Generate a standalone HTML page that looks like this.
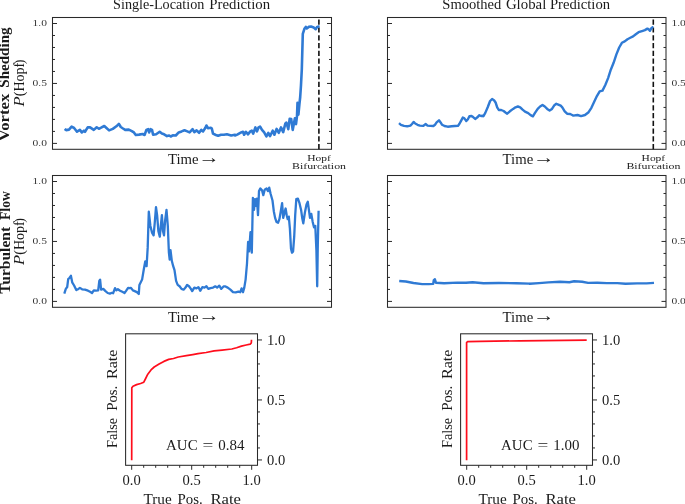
<!DOCTYPE html>
<html><head><meta charset="utf-8"><title>Figure</title>
<style>
html,body{margin:0;padding:0;background:#fff;}
body{width:685px;height:504px;overflow:hidden;}
svg{display:block;}
text{font-family:"Liberation Serif","DejaVu Serif",serif;fill:#1a1a1a;}
.lb{font-size:14.2px;}
.bd{font-size:14.4px;font-weight:bold;}
.tk{font-size:8.1px;fill:#333;}
.sm{font-size:8.2px;}
</style></head><body>
<svg width="685" height="504" viewBox="0 0 685 504">
<rect width="685" height="504" fill="#fff"/>
<rect x="52.5" y="17.5" width="279.0" height="131.8" fill="none" stroke="#2a2a2a" stroke-width="1.05"/>
<line x1="52.5" y1="143.40" x2="57.0" y2="143.40" stroke="#2a2a2a" stroke-width="1"/>
<line x1="331.5" y1="143.40" x2="327.0" y2="143.40" stroke="#2a2a2a" stroke-width="1"/>
<line x1="52.5" y1="131.41" x2="55.0" y2="131.41" stroke="#2a2a2a" stroke-width="1"/>
<line x1="331.5" y1="131.41" x2="329.0" y2="131.41" stroke="#2a2a2a" stroke-width="1"/>
<line x1="52.5" y1="119.42" x2="55.0" y2="119.42" stroke="#2a2a2a" stroke-width="1"/>
<line x1="331.5" y1="119.42" x2="329.0" y2="119.42" stroke="#2a2a2a" stroke-width="1"/>
<line x1="52.5" y1="107.43" x2="55.0" y2="107.43" stroke="#2a2a2a" stroke-width="1"/>
<line x1="331.5" y1="107.43" x2="329.0" y2="107.43" stroke="#2a2a2a" stroke-width="1"/>
<line x1="52.5" y1="95.44" x2="55.0" y2="95.44" stroke="#2a2a2a" stroke-width="1"/>
<line x1="331.5" y1="95.44" x2="329.0" y2="95.44" stroke="#2a2a2a" stroke-width="1"/>
<line x1="52.5" y1="83.45" x2="57.0" y2="83.45" stroke="#2a2a2a" stroke-width="1"/>
<line x1="331.5" y1="83.45" x2="327.0" y2="83.45" stroke="#2a2a2a" stroke-width="1"/>
<line x1="52.5" y1="71.46" x2="55.0" y2="71.46" stroke="#2a2a2a" stroke-width="1"/>
<line x1="331.5" y1="71.46" x2="329.0" y2="71.46" stroke="#2a2a2a" stroke-width="1"/>
<line x1="52.5" y1="59.47" x2="55.0" y2="59.47" stroke="#2a2a2a" stroke-width="1"/>
<line x1="331.5" y1="59.47" x2="329.0" y2="59.47" stroke="#2a2a2a" stroke-width="1"/>
<line x1="52.5" y1="47.48" x2="55.0" y2="47.48" stroke="#2a2a2a" stroke-width="1"/>
<line x1="331.5" y1="47.48" x2="329.0" y2="47.48" stroke="#2a2a2a" stroke-width="1"/>
<line x1="52.5" y1="35.49" x2="55.0" y2="35.49" stroke="#2a2a2a" stroke-width="1"/>
<line x1="331.5" y1="35.49" x2="329.0" y2="35.49" stroke="#2a2a2a" stroke-width="1"/>
<line x1="52.5" y1="23.50" x2="57.0" y2="23.50" stroke="#2a2a2a" stroke-width="1"/>
<line x1="331.5" y1="23.50" x2="327.0" y2="23.50" stroke="#2a2a2a" stroke-width="1"/>
<text x="46.9" y="146.35" class="tk" text-anchor="end" textLength="14.4" lengthAdjust="spacingAndGlyphs">0.0</text>
<text x="46.9" y="86.40" class="tk" text-anchor="end" textLength="14.4" lengthAdjust="spacingAndGlyphs">0.5</text>
<text x="46.9" y="26.45" class="tk" text-anchor="end" textLength="14.4" lengthAdjust="spacingAndGlyphs">1.0</text>
<line x1="318.9" y1="149.3" x2="318.9" y2="17.5" stroke="#111" stroke-width="1.6" stroke-dasharray="5.2,2.58"/>
<rect x="387.5" y="17.5" width="278.5" height="131.8" fill="none" stroke="#2a2a2a" stroke-width="1.05"/>
<line x1="387.5" y1="143.40" x2="392.0" y2="143.40" stroke="#2a2a2a" stroke-width="1"/>
<line x1="666.0" y1="143.40" x2="661.5" y2="143.40" stroke="#2a2a2a" stroke-width="1"/>
<line x1="387.5" y1="131.41" x2="390.0" y2="131.41" stroke="#2a2a2a" stroke-width="1"/>
<line x1="666.0" y1="131.41" x2="663.5" y2="131.41" stroke="#2a2a2a" stroke-width="1"/>
<line x1="387.5" y1="119.42" x2="390.0" y2="119.42" stroke="#2a2a2a" stroke-width="1"/>
<line x1="666.0" y1="119.42" x2="663.5" y2="119.42" stroke="#2a2a2a" stroke-width="1"/>
<line x1="387.5" y1="107.43" x2="390.0" y2="107.43" stroke="#2a2a2a" stroke-width="1"/>
<line x1="666.0" y1="107.43" x2="663.5" y2="107.43" stroke="#2a2a2a" stroke-width="1"/>
<line x1="387.5" y1="95.44" x2="390.0" y2="95.44" stroke="#2a2a2a" stroke-width="1"/>
<line x1="666.0" y1="95.44" x2="663.5" y2="95.44" stroke="#2a2a2a" stroke-width="1"/>
<line x1="387.5" y1="83.45" x2="392.0" y2="83.45" stroke="#2a2a2a" stroke-width="1"/>
<line x1="666.0" y1="83.45" x2="661.5" y2="83.45" stroke="#2a2a2a" stroke-width="1"/>
<line x1="387.5" y1="71.46" x2="390.0" y2="71.46" stroke="#2a2a2a" stroke-width="1"/>
<line x1="666.0" y1="71.46" x2="663.5" y2="71.46" stroke="#2a2a2a" stroke-width="1"/>
<line x1="387.5" y1="59.47" x2="390.0" y2="59.47" stroke="#2a2a2a" stroke-width="1"/>
<line x1="666.0" y1="59.47" x2="663.5" y2="59.47" stroke="#2a2a2a" stroke-width="1"/>
<line x1="387.5" y1="47.48" x2="390.0" y2="47.48" stroke="#2a2a2a" stroke-width="1"/>
<line x1="666.0" y1="47.48" x2="663.5" y2="47.48" stroke="#2a2a2a" stroke-width="1"/>
<line x1="387.5" y1="35.49" x2="390.0" y2="35.49" stroke="#2a2a2a" stroke-width="1"/>
<line x1="666.0" y1="35.49" x2="663.5" y2="35.49" stroke="#2a2a2a" stroke-width="1"/>
<line x1="387.5" y1="23.50" x2="392.0" y2="23.50" stroke="#2a2a2a" stroke-width="1"/>
<line x1="666.0" y1="23.50" x2="661.5" y2="23.50" stroke="#2a2a2a" stroke-width="1"/>
<text x="671.4" y="146.35" class="tk" text-anchor="start" textLength="14.4" lengthAdjust="spacingAndGlyphs">0.0</text>
<text x="671.4" y="86.40" class="tk" text-anchor="start" textLength="14.4" lengthAdjust="spacingAndGlyphs">0.5</text>
<text x="671.4" y="26.45" class="tk" text-anchor="start" textLength="14.4" lengthAdjust="spacingAndGlyphs">1.0</text>
<line x1="653.3" y1="149.3" x2="653.3" y2="17.5" stroke="#111" stroke-width="1.6" stroke-dasharray="5.2,2.58"/>
<rect x="52.5" y="175.5" width="279.0" height="131.8" fill="none" stroke="#2a2a2a" stroke-width="1.05"/>
<line x1="52.5" y1="301.40" x2="57.0" y2="301.40" stroke="#2a2a2a" stroke-width="1"/>
<line x1="331.5" y1="301.40" x2="327.0" y2="301.40" stroke="#2a2a2a" stroke-width="1"/>
<line x1="52.5" y1="289.41" x2="55.0" y2="289.41" stroke="#2a2a2a" stroke-width="1"/>
<line x1="331.5" y1="289.41" x2="329.0" y2="289.41" stroke="#2a2a2a" stroke-width="1"/>
<line x1="52.5" y1="277.42" x2="55.0" y2="277.42" stroke="#2a2a2a" stroke-width="1"/>
<line x1="331.5" y1="277.42" x2="329.0" y2="277.42" stroke="#2a2a2a" stroke-width="1"/>
<line x1="52.5" y1="265.43" x2="55.0" y2="265.43" stroke="#2a2a2a" stroke-width="1"/>
<line x1="331.5" y1="265.43" x2="329.0" y2="265.43" stroke="#2a2a2a" stroke-width="1"/>
<line x1="52.5" y1="253.44" x2="55.0" y2="253.44" stroke="#2a2a2a" stroke-width="1"/>
<line x1="331.5" y1="253.44" x2="329.0" y2="253.44" stroke="#2a2a2a" stroke-width="1"/>
<line x1="52.5" y1="241.45" x2="57.0" y2="241.45" stroke="#2a2a2a" stroke-width="1"/>
<line x1="331.5" y1="241.45" x2="327.0" y2="241.45" stroke="#2a2a2a" stroke-width="1"/>
<line x1="52.5" y1="229.46" x2="55.0" y2="229.46" stroke="#2a2a2a" stroke-width="1"/>
<line x1="331.5" y1="229.46" x2="329.0" y2="229.46" stroke="#2a2a2a" stroke-width="1"/>
<line x1="52.5" y1="217.47" x2="55.0" y2="217.47" stroke="#2a2a2a" stroke-width="1"/>
<line x1="331.5" y1="217.47" x2="329.0" y2="217.47" stroke="#2a2a2a" stroke-width="1"/>
<line x1="52.5" y1="205.48" x2="55.0" y2="205.48" stroke="#2a2a2a" stroke-width="1"/>
<line x1="331.5" y1="205.48" x2="329.0" y2="205.48" stroke="#2a2a2a" stroke-width="1"/>
<line x1="52.5" y1="193.49" x2="55.0" y2="193.49" stroke="#2a2a2a" stroke-width="1"/>
<line x1="331.5" y1="193.49" x2="329.0" y2="193.49" stroke="#2a2a2a" stroke-width="1"/>
<line x1="52.5" y1="181.50" x2="57.0" y2="181.50" stroke="#2a2a2a" stroke-width="1"/>
<line x1="331.5" y1="181.50" x2="327.0" y2="181.50" stroke="#2a2a2a" stroke-width="1"/>
<text x="46.9" y="304.35" class="tk" text-anchor="end" textLength="14.4" lengthAdjust="spacingAndGlyphs">0.0</text>
<text x="46.9" y="244.40" class="tk" text-anchor="end" textLength="14.4" lengthAdjust="spacingAndGlyphs">0.5</text>
<text x="46.9" y="184.45" class="tk" text-anchor="end" textLength="14.4" lengthAdjust="spacingAndGlyphs">1.0</text>
<rect x="387.5" y="175.5" width="278.5" height="131.8" fill="none" stroke="#2a2a2a" stroke-width="1.05"/>
<line x1="387.5" y1="301.40" x2="392.0" y2="301.40" stroke="#2a2a2a" stroke-width="1"/>
<line x1="666.0" y1="301.40" x2="661.5" y2="301.40" stroke="#2a2a2a" stroke-width="1"/>
<line x1="387.5" y1="289.41" x2="390.0" y2="289.41" stroke="#2a2a2a" stroke-width="1"/>
<line x1="666.0" y1="289.41" x2="663.5" y2="289.41" stroke="#2a2a2a" stroke-width="1"/>
<line x1="387.5" y1="277.42" x2="390.0" y2="277.42" stroke="#2a2a2a" stroke-width="1"/>
<line x1="666.0" y1="277.42" x2="663.5" y2="277.42" stroke="#2a2a2a" stroke-width="1"/>
<line x1="387.5" y1="265.43" x2="390.0" y2="265.43" stroke="#2a2a2a" stroke-width="1"/>
<line x1="666.0" y1="265.43" x2="663.5" y2="265.43" stroke="#2a2a2a" stroke-width="1"/>
<line x1="387.5" y1="253.44" x2="390.0" y2="253.44" stroke="#2a2a2a" stroke-width="1"/>
<line x1="666.0" y1="253.44" x2="663.5" y2="253.44" stroke="#2a2a2a" stroke-width="1"/>
<line x1="387.5" y1="241.45" x2="392.0" y2="241.45" stroke="#2a2a2a" stroke-width="1"/>
<line x1="666.0" y1="241.45" x2="661.5" y2="241.45" stroke="#2a2a2a" stroke-width="1"/>
<line x1="387.5" y1="229.46" x2="390.0" y2="229.46" stroke="#2a2a2a" stroke-width="1"/>
<line x1="666.0" y1="229.46" x2="663.5" y2="229.46" stroke="#2a2a2a" stroke-width="1"/>
<line x1="387.5" y1="217.47" x2="390.0" y2="217.47" stroke="#2a2a2a" stroke-width="1"/>
<line x1="666.0" y1="217.47" x2="663.5" y2="217.47" stroke="#2a2a2a" stroke-width="1"/>
<line x1="387.5" y1="205.48" x2="390.0" y2="205.48" stroke="#2a2a2a" stroke-width="1"/>
<line x1="666.0" y1="205.48" x2="663.5" y2="205.48" stroke="#2a2a2a" stroke-width="1"/>
<line x1="387.5" y1="193.49" x2="390.0" y2="193.49" stroke="#2a2a2a" stroke-width="1"/>
<line x1="666.0" y1="193.49" x2="663.5" y2="193.49" stroke="#2a2a2a" stroke-width="1"/>
<line x1="387.5" y1="181.50" x2="392.0" y2="181.50" stroke="#2a2a2a" stroke-width="1"/>
<line x1="666.0" y1="181.50" x2="661.5" y2="181.50" stroke="#2a2a2a" stroke-width="1"/>
<text x="671.4" y="304.35" class="tk" text-anchor="start" textLength="14.4" lengthAdjust="spacingAndGlyphs">0.0</text>
<text x="671.4" y="244.40" class="tk" text-anchor="start" textLength="14.4" lengthAdjust="spacingAndGlyphs">0.5</text>
<text x="671.4" y="184.45" class="tk" text-anchor="start" textLength="14.4" lengthAdjust="spacingAndGlyphs">1.0</text>
<polyline points="64.6,128.9 66.1,130.1 69.0,129.6 71.6,126.7 74.1,128.0 77.0,131.7 79.9,129.9 81.8,132.4 83.9,130.7 85.0,131.8 87.7,127.4 90.1,127.4 93.8,129.9 96.7,127.3 98.9,128.8 101.1,127.7 104.3,126.0 106.2,127.7 109.1,130.4 112.8,128.9 116.4,126.3 118.9,123.8 120.8,127.0 123.0,128.5 125.2,129.9 128.8,129.6 131.8,131.1 133.9,132.4 135.8,135.0 139.1,134.6 142.7,134.0 144.6,135.0 146.4,129.9 148.1,129.2 149.1,132.4 150.5,129.2 152.0,129.9 153.1,134.7 156.1,134.3 159.7,131.8 161.9,133.6 164.1,134.3 167.0,136.1 169.2,135.5 170.7,136.5 172.8,135.3 175.8,135.5 178.7,132.4 181.6,131.4 184.5,130.2 186.7,131.1 189.6,132.4 192.6,129.2 194.3,132.1 196.6,130.4 199.1,132.8 201.3,129.9 203.1,131.4 205.4,127.7 206.4,125.5 207.9,128.2 210.8,127.7 211.8,128.5 213.0,133.6 215.9,135.0 218.1,135.8 221.0,134.7 223.9,134.7 226.9,134.3 231.2,135.5 234.9,134.7 235.0,135.5 237.2,134.6 239.4,133.3 241.1,132.4 243.0,131.8 244.1,134.7 245.9,131.8 248.1,134.3 250.3,131.4 251.8,130.7 253.2,133.6 255.4,127.4 256.9,131.4 258.4,127.7 260.1,126.6 262.0,129.9 264.2,132.4 266.4,136.5 268.3,132.8 270.0,136.2 272.7,130.7 274.4,134.7 276.6,128.9 278.8,132.8 281.0,127.4 283.2,132.1 285.4,123.4 286.4,122.6 288.3,129.2 289.7,118.7 291.2,119.0 292.7,129.9 294.9,118.2 296.0,124.1 297.0,116.1 297.5,102.9 298.4,114.6 299.4,104.4 300.2,97.0 301.0,85.0 301.8,69.5 302.8,33.8 304.4,28.8 305.8,26.9 306.8,28.5 308.7,26.9 311.0,26.5 313.7,27.5 315.7,29.2 317.1,26.9 319.6,26.3" fill="none" stroke="#2f7ad4" stroke-width="2.6" stroke-linejoin="round" stroke-linecap="butt"/>
<polyline points="399.0,123.2 400.9,124.8 404.0,125.9 407.2,126.3 410.4,125.6 412.0,124.0 413.6,121.9 415.2,123.5 417.5,124.8 419.9,125.6 423.1,125.9 424.7,124.8 425.8,124.0 427.5,125.6 430.2,125.9 433.4,126.0 435.0,124.8 436.6,122.4 439.0,120.3 440.6,122.4 442.1,124.8 444.5,126.0 447.7,126.7 451.7,126.3 454.8,126.0 458.0,125.9 459.3,124.0 460.9,121.1 462.8,117.6 464.4,118.4 466.3,121.1 467.9,119.2 469.4,116.3 471.5,116.0 473.1,117.1 475.2,118.9 477.1,117.6 479.4,115.2 481.0,116.0 482.6,115.7 483.3,116.3 485.3,112.9 487.7,107.3 490.1,101.0 492.1,99.0 494.0,100.2 495.6,102.5 497.2,107.3 498.8,110.0 501.2,110.0 503.6,111.0 505.5,112.5 507.2,113.7 509.9,111.3 513.1,108.9 515.5,107.3 517.9,106.5 520.2,107.3 522.6,109.7 525.0,111.7 528.2,113.2 530.6,115.2 532.9,116.3 535.0,112.9 537.7,108.9 540.1,106.5 542.5,104.9 544.8,106.5 547.2,108.9 549.6,110.5 552.0,108.9 554.4,105.2 556.3,103.8 558.3,104.6 560.7,105.7 562.3,107.3 564.7,111.3 567.1,113.7 570.2,114.0 572.6,115.2 573.3,115.6 577.5,115.0 581.1,116.1 585.0,115.0 588.6,112.2 591.4,107.8 594.2,101.7 596.9,96.1 599.7,91.4 602.5,90.6 605.3,85.0 608.1,78.1 610.8,69.7 613.6,62.8 616.4,54.4 619.2,47.5 621.9,42.8 624.7,41.4 627.5,39.2 630.3,37.8 633.1,36.4 635.8,34.2 638.6,32.2 642.8,30.8 644.9,30.1 647.4,28.6 648.8,29.4 649.9,30.8 651.3,28.3 652.7,27.2 653.4,27.1" fill="none" stroke="#2f7ad4" stroke-width="2.4" stroke-linejoin="round" stroke-linecap="butt"/>
<polyline points="64.3,293.7 65.8,288.9 67.2,287.0 68.2,279.1 69.4,278.0 70.9,275.8 72.2,282.3 74.1,285.5 76.3,290.1 78.5,288.9 79.9,287.9 82.1,289.3 85.0,289.6 88.0,290.7 90.1,291.8 92.0,293.0 93.8,290.4 96.0,290.7 98.2,290.4 99.3,280.9 100.1,279.7 101.1,289.6 103.3,288.9 105.5,291.1 107.7,293.0 109.9,293.6 112.0,292.8 113.1,293.3 115.0,288.2 116.4,290.4 117.9,289.2 120.1,290.7 122.3,291.8 124.5,293.0 125.9,291.1 128.1,287.9 129.6,288.2 131.0,287.9 132.9,290.4 134.7,291.1 136.9,292.1 138.8,294.0 139.4,284.9 142.1,279.6 143.9,268.8 145.3,261.3 146.6,266.2 147.7,247.4 148.8,211.7 150.4,225.9 152.0,232.6 153.6,235.3 154.7,223.3 156.0,207.2 157.1,215.2 158.4,231.3 159.8,236.7 160.8,225.9 161.9,215.2 163.0,231.3 164.0,235.3 165.1,220.6 166.5,209.9 167.8,225.9 168.9,252.7 169.7,259.5 170.5,250.1 171.8,260.8 173.2,266.2 174.5,270.2 176.1,280.9 177.7,284.9 179.6,286.3 181.5,288.9 183.6,289.7 185.5,287.6 187.1,284.9 189.0,286.3 190.9,288.9 192.2,291.1 194.3,287.6 196.5,288.4 198.4,287.1 200.2,290.8 202.4,287.1 204.5,287.6 206.4,286.3 208.3,288.9 210.4,288.1 213.1,287.6 215.3,286.3 217.1,287.6 219.3,285.7 221.2,288.9 223.8,286.3 225.0,286.3 227.7,287.6 230.4,289.7 233.0,292.2 235.7,292.4 238.4,291.6 240.3,292.2 241.6,288.4 243.0,292.2 244.3,287.6 245.6,279.6 247.0,263.5 248.1,242.0 249.1,251.4 250.5,232.1 251.8,252.7 252.9,197.8 254.0,209.9 255.0,199.1 256.1,205.8 256.9,198.6 258.0,215.2 259.0,191.1 260.4,188.4 262.0,190.3 263.3,195.1 264.7,189.7 266.6,188.4 267.9,191.1 269.2,187.6 270.6,193.8 272.5,200.5 273.8,211.2 275.1,217.9 276.5,221.9 278.1,222.7 279.4,219.2 280.8,211.2 282.1,203.2 283.2,217.9 284.5,212.5 285.6,208.5 286.7,215.2 287.7,219.2 288.8,216.6 289.9,228.6 291.0,248.7 292.0,252.7 293.1,251.4 294.2,236.7 295.2,215.2 296.3,199.1 297.9,198.6 299.5,203.2 301.1,209.9 302.2,217.9 303.3,223.3 304.9,212.5 306.5,204.5 307.8,201.8 308.9,209.9 310.0,217.9 311.3,213.9 312.7,221.9 314.0,227.3 315.3,225.9 316.4,250.1 317.2,286.3 317.8,244.7 318.6,210.7" fill="none" stroke="#2f7ad4" stroke-width="2.3" stroke-linejoin="round" stroke-linecap="butt"/>
<polyline points="399.2,281.0 405.8,281.5 413.5,283.0 422.2,284.1 428.8,284.1 433.2,283.9 433.8,280.1 434.9,279.3 436.0,282.8 444.1,283.2 457.3,282.6 466.0,282.8 472.6,282.3 483.5,283.2 498.9,283.0 516.4,283.2 529.5,283.6 529.7,283.8 539.0,283.1 548.4,282.4 560.0,281.7 569.4,282.2 574.1,281.3 582.2,281.7 588.1,282.9 597.4,282.7 606.8,283.1 617.3,283.1 625.5,283.8 637.1,283.4 646.5,283.4 654.0,282.9" fill="none" stroke="#2f7ad4" stroke-width="2.4" stroke-linejoin="round" stroke-linecap="butt"/>
<text x="113.10" y="8.5" class="lb" textLength="91.20" lengthAdjust="spacingAndGlyphs">Single-Location</text>
<text x="209.30" y="8.5" class="lb" textLength="60.80" lengthAdjust="spacingAndGlyphs">Prediction</text>
<text x="442.30" y="8.5" class="lb" textLength="59.00" lengthAdjust="spacingAndGlyphs">Smoothed</text>
<text x="505.90" y="8.5" class="lb" textLength="40.40" lengthAdjust="spacingAndGlyphs">Global</text>
<text x="549.90" y="8.5" class="lb" textLength="60.20" lengthAdjust="spacingAndGlyphs">Prediction</text>
<text x="167.90" y="164.2" class="lb" textLength="30.60" lengthAdjust="spacingAndGlyphs">Time</text>
<text x="198.6" y="163.3" style="font-size:17px" textLength="21.4" lengthAdjust="spacingAndGlyphs">→</text>
<text x="167.90" y="322.2" class="lb" textLength="30.60" lengthAdjust="spacingAndGlyphs">Time</text>
<text x="198.6" y="321.3" style="font-size:17px" textLength="21.4" lengthAdjust="spacingAndGlyphs">→</text>
<text x="502.60" y="164.2" class="lb" textLength="30.60" lengthAdjust="spacingAndGlyphs">Time</text>
<text x="533.3" y="163.3" style="font-size:17px" textLength="21.4" lengthAdjust="spacingAndGlyphs">→</text>
<text x="502.60" y="322.2" class="lb" textLength="30.60" lengthAdjust="spacingAndGlyphs">Time</text>
<text x="533.3" y="321.3" style="font-size:17px" textLength="21.4" lengthAdjust="spacingAndGlyphs">→</text>
<text x="319.0" y="161.2" class="sm" text-anchor="middle" textLength="23.6" lengthAdjust="spacingAndGlyphs">Hopf</text>
<text x="319.0" y="168.7" class="sm" text-anchor="middle" textLength="54" lengthAdjust="spacingAndGlyphs">Bifurcation</text>
<text x="653.4" y="161.2" class="sm" text-anchor="middle" textLength="23.6" lengthAdjust="spacingAndGlyphs">Hopf</text>
<text x="653.4" y="168.7" class="sm" text-anchor="middle" textLength="54" lengthAdjust="spacingAndGlyphs">Bifurcation</text>
<g transform="translate(9.3,141.0) rotate(-90)">
<text x="-0.30" y="0" class="bd" textLength="47.70" lengthAdjust="spacingAndGlyphs">Vortex</text>
<text x="53.30" y="0" class="bd" textLength="60.30" lengthAdjust="spacingAndGlyphs">Shedding</text>
</g>
<g transform="translate(10.3,293.4) rotate(-90)">
<text x="-0.30" y="0" class="bd" textLength="66.80" lengthAdjust="spacingAndGlyphs">Turbulent</text>
<text x="73.40" y="0" class="bd" textLength="28.90" lengthAdjust="spacingAndGlyphs">Flow</text>
</g>
<g transform="translate(23.9,106.2) rotate(-90)">
<text x="-0.4" y="0" class="lb" font-style="italic" textLength="10.1" lengthAdjust="spacingAndGlyphs">P</text>
<text x="10.0" y="0" class="lb">(</text>
<text x="14.60" y="0" class="lb" textLength="28.80" lengthAdjust="spacingAndGlyphs">Hopf</text>
<text x="41.9" y="0" class="lb">)</text>
</g>
<g transform="translate(23.9,264.7) rotate(-90)">
<text x="-0.4" y="0" class="lb" font-style="italic" textLength="10.1" lengthAdjust="spacingAndGlyphs">P</text>
<text x="10.0" y="0" class="lb">(</text>
<text x="14.60" y="0" class="lb" textLength="28.80" lengthAdjust="spacingAndGlyphs">Hopf</text>
<text x="41.9" y="0" class="lb">)</text>
</g>
<rect x="125.6" y="333.8" width="131.9" height="131.5" fill="none" stroke="#2a2a2a" stroke-width="1.05"/>
<line x1="131.70" y1="465.3" x2="131.70" y2="469.8" stroke="#2a2a2a" stroke-width="1"/>
<line x1="257.5" y1="459.95" x2="262.0" y2="459.95" stroke="#2a2a2a" stroke-width="1"/>
<line x1="143.70" y1="465.3" x2="143.70" y2="467.8" stroke="#2a2a2a" stroke-width="1"/>
<line x1="257.5" y1="447.95" x2="260.0" y2="447.95" stroke="#2a2a2a" stroke-width="1"/>
<line x1="155.70" y1="465.3" x2="155.70" y2="467.8" stroke="#2a2a2a" stroke-width="1"/>
<line x1="257.5" y1="435.95" x2="260.0" y2="435.95" stroke="#2a2a2a" stroke-width="1"/>
<line x1="167.70" y1="465.3" x2="167.70" y2="467.8" stroke="#2a2a2a" stroke-width="1"/>
<line x1="257.5" y1="423.95" x2="260.0" y2="423.95" stroke="#2a2a2a" stroke-width="1"/>
<line x1="179.70" y1="465.3" x2="179.70" y2="467.8" stroke="#2a2a2a" stroke-width="1"/>
<line x1="257.5" y1="411.95" x2="260.0" y2="411.95" stroke="#2a2a2a" stroke-width="1"/>
<line x1="191.70" y1="465.3" x2="191.70" y2="469.8" stroke="#2a2a2a" stroke-width="1"/>
<line x1="257.5" y1="399.95" x2="262.0" y2="399.95" stroke="#2a2a2a" stroke-width="1"/>
<line x1="203.70" y1="465.3" x2="203.70" y2="467.8" stroke="#2a2a2a" stroke-width="1"/>
<line x1="257.5" y1="387.95" x2="260.0" y2="387.95" stroke="#2a2a2a" stroke-width="1"/>
<line x1="215.70" y1="465.3" x2="215.70" y2="467.8" stroke="#2a2a2a" stroke-width="1"/>
<line x1="257.5" y1="375.95" x2="260.0" y2="375.95" stroke="#2a2a2a" stroke-width="1"/>
<line x1="227.70" y1="465.3" x2="227.70" y2="467.8" stroke="#2a2a2a" stroke-width="1"/>
<line x1="257.5" y1="363.95" x2="260.0" y2="363.95" stroke="#2a2a2a" stroke-width="1"/>
<line x1="239.70" y1="465.3" x2="239.70" y2="467.8" stroke="#2a2a2a" stroke-width="1"/>
<line x1="257.5" y1="351.95" x2="260.0" y2="351.95" stroke="#2a2a2a" stroke-width="1"/>
<line x1="251.70" y1="465.3" x2="251.70" y2="469.8" stroke="#2a2a2a" stroke-width="1"/>
<line x1="257.5" y1="339.95" x2="262.0" y2="339.95" stroke="#2a2a2a" stroke-width="1"/>
<text x="131.70" y="485.1" class="lb" text-anchor="middle" textLength="18.2" lengthAdjust="spacingAndGlyphs">0.0</text>
<text x="267.10" y="465.25" class="lb" text-anchor="start" textLength="18.2" lengthAdjust="spacingAndGlyphs">0.0</text>
<text x="191.70" y="485.1" class="lb" text-anchor="middle" textLength="18.2" lengthAdjust="spacingAndGlyphs">0.5</text>
<text x="267.10" y="405.25" class="lb" text-anchor="start" textLength="18.2" lengthAdjust="spacingAndGlyphs">0.5</text>
<text x="251.70" y="485.1" class="lb" text-anchor="middle" textLength="18.2" lengthAdjust="spacingAndGlyphs">1.0</text>
<text x="267.10" y="345.25" class="lb" text-anchor="start" textLength="18.2" lengthAdjust="spacingAndGlyphs">1.0</text>
<polyline points="131.7,460.2 131.8,387.8 133.0,386.2 136.6,384.6 140.6,383.5 143.8,382.2 145.4,379.0 147.8,374.2 151.0,369.9 154.2,367.0 159.1,364.1 163.9,361.4 168.7,359.4 173.5,358.5 178.3,357.0 186.4,355.7 192.8,354.6 198.0,353.6 206.1,352.5 214.1,350.9 222.1,350.1 231.8,349.0 236.6,347.7 241.4,346.1 246.2,345.0 250.2,344.2 251.3,342.9 251.5,339.7" fill="none" stroke="#ff0d1c" stroke-width="1.7" stroke-linejoin="round" stroke-linecap="butt"/>
<text x="143.50" y="504.1" class="lb" textLength="28.20" lengthAdjust="spacingAndGlyphs">True</text>
<text x="177.60" y="504.1" class="lb" textLength="25.20" lengthAdjust="spacingAndGlyphs">Pos.</text>
<text x="210.40" y="504.1" class="lb" textLength="30.50" lengthAdjust="spacingAndGlyphs">Rate</text>
<g transform="translate(117.2,447.6) rotate(-90)">
<text x="-0.30" y="0" class="lb" textLength="30.10" lengthAdjust="spacingAndGlyphs">False</text>
<text x="36.80" y="0" class="lb" textLength="25.10" lengthAdjust="spacingAndGlyphs">Pos.</text>
<text x="68.50" y="0" class="lb" textLength="29.60" lengthAdjust="spacingAndGlyphs">Rate</text>
</g>
<text x="166.10" y="449.7" class="lb" textLength="31.50" lengthAdjust="spacingAndGlyphs">AUC</text>
<text x="202.60" y="449.7" class="lb" textLength="10.80" lengthAdjust="spacingAndGlyphs">=</text>
<text x="218.20" y="449.7" class="lb" textLength="26.20" lengthAdjust="spacingAndGlyphs">0.84</text>
<rect x="460.6" y="333.8" width="131.89999999999998" height="131.5" fill="none" stroke="#2a2a2a" stroke-width="1.05"/>
<line x1="466.70" y1="465.3" x2="466.70" y2="469.8" stroke="#2a2a2a" stroke-width="1"/>
<line x1="592.5" y1="459.95" x2="597.0" y2="459.95" stroke="#2a2a2a" stroke-width="1"/>
<line x1="478.70" y1="465.3" x2="478.70" y2="467.8" stroke="#2a2a2a" stroke-width="1"/>
<line x1="592.5" y1="447.95" x2="595.0" y2="447.95" stroke="#2a2a2a" stroke-width="1"/>
<line x1="490.70" y1="465.3" x2="490.70" y2="467.8" stroke="#2a2a2a" stroke-width="1"/>
<line x1="592.5" y1="435.95" x2="595.0" y2="435.95" stroke="#2a2a2a" stroke-width="1"/>
<line x1="502.70" y1="465.3" x2="502.70" y2="467.8" stroke="#2a2a2a" stroke-width="1"/>
<line x1="592.5" y1="423.95" x2="595.0" y2="423.95" stroke="#2a2a2a" stroke-width="1"/>
<line x1="514.70" y1="465.3" x2="514.70" y2="467.8" stroke="#2a2a2a" stroke-width="1"/>
<line x1="592.5" y1="411.95" x2="595.0" y2="411.95" stroke="#2a2a2a" stroke-width="1"/>
<line x1="526.70" y1="465.3" x2="526.70" y2="469.8" stroke="#2a2a2a" stroke-width="1"/>
<line x1="592.5" y1="399.95" x2="597.0" y2="399.95" stroke="#2a2a2a" stroke-width="1"/>
<line x1="538.70" y1="465.3" x2="538.70" y2="467.8" stroke="#2a2a2a" stroke-width="1"/>
<line x1="592.5" y1="387.95" x2="595.0" y2="387.95" stroke="#2a2a2a" stroke-width="1"/>
<line x1="550.70" y1="465.3" x2="550.70" y2="467.8" stroke="#2a2a2a" stroke-width="1"/>
<line x1="592.5" y1="375.95" x2="595.0" y2="375.95" stroke="#2a2a2a" stroke-width="1"/>
<line x1="562.70" y1="465.3" x2="562.70" y2="467.8" stroke="#2a2a2a" stroke-width="1"/>
<line x1="592.5" y1="363.95" x2="595.0" y2="363.95" stroke="#2a2a2a" stroke-width="1"/>
<line x1="574.70" y1="465.3" x2="574.70" y2="467.8" stroke="#2a2a2a" stroke-width="1"/>
<line x1="592.5" y1="351.95" x2="595.0" y2="351.95" stroke="#2a2a2a" stroke-width="1"/>
<line x1="586.70" y1="465.3" x2="586.70" y2="469.8" stroke="#2a2a2a" stroke-width="1"/>
<line x1="592.5" y1="339.95" x2="597.0" y2="339.95" stroke="#2a2a2a" stroke-width="1"/>
<text x="466.70" y="485.1" class="lb" text-anchor="middle" textLength="18.2" lengthAdjust="spacingAndGlyphs">0.0</text>
<text x="602.10" y="465.25" class="lb" text-anchor="start" textLength="18.2" lengthAdjust="spacingAndGlyphs">0.0</text>
<text x="526.70" y="485.1" class="lb" text-anchor="middle" textLength="18.2" lengthAdjust="spacingAndGlyphs">0.5</text>
<text x="602.10" y="405.25" class="lb" text-anchor="start" textLength="18.2" lengthAdjust="spacingAndGlyphs">0.5</text>
<text x="586.70" y="485.1" class="lb" text-anchor="middle" textLength="18.2" lengthAdjust="spacingAndGlyphs">1.0</text>
<text x="602.10" y="345.25" class="lb" text-anchor="start" textLength="18.2" lengthAdjust="spacingAndGlyphs">1.0</text>
<polyline points="466.6,460.2 466.6,342.6 467.4,341.7 480.0,341.4 520.0,340.8 586.7,340.1" fill="none" stroke="#ff0d1c" stroke-width="1.7" stroke-linejoin="round" stroke-linecap="butt"/>
<text x="478.50" y="504.1" class="lb" textLength="28.20" lengthAdjust="spacingAndGlyphs">True</text>
<text x="512.60" y="504.1" class="lb" textLength="25.20" lengthAdjust="spacingAndGlyphs">Pos.</text>
<text x="545.40" y="504.1" class="lb" textLength="30.50" lengthAdjust="spacingAndGlyphs">Rate</text>
<g transform="translate(452.2,447.6) rotate(-90)">
<text x="-0.30" y="0" class="lb" textLength="30.10" lengthAdjust="spacingAndGlyphs">False</text>
<text x="36.80" y="0" class="lb" textLength="25.10" lengthAdjust="spacingAndGlyphs">Pos.</text>
<text x="68.50" y="0" class="lb" textLength="29.60" lengthAdjust="spacingAndGlyphs">Rate</text>
</g>
<text x="501.10" y="449.7" class="lb" textLength="31.50" lengthAdjust="spacingAndGlyphs">AUC</text>
<text x="537.60" y="449.7" class="lb" textLength="10.80" lengthAdjust="spacingAndGlyphs">=</text>
<text x="553.20" y="449.7" class="lb" textLength="26.20" lengthAdjust="spacingAndGlyphs">1.00</text>
</svg>
</body></html>
